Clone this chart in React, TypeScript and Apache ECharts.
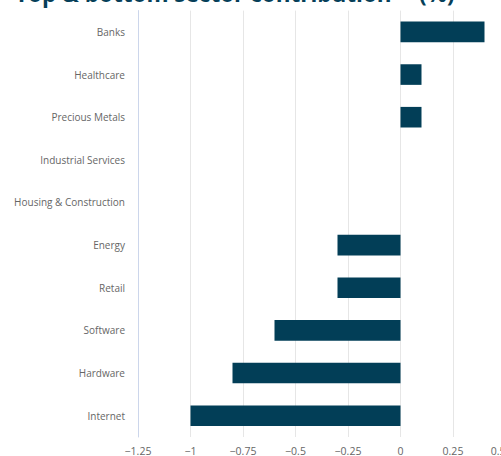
import React, { useEffect, useRef } from "react";
import * as echarts from "echarts";

const categories = [
  "Banks",
  "Healthcare",
  "Precious Metals",
  "Industrial Services",
  "Housing & Construction",
  "Energy",
  "Retail",
  "Software",
  "Hardware",
  "Internet",
];
const values = [0.4, 0.1, 0.1, 0, 0, -0.3, -0.3, -0.6, -0.8, -1.0];
const titleMain = "Top & bottom sector contribution";
const titleSup = "**";
const titleUnit = "(%)";
const xMin = -1.25;
const xMax = 0.5;
const xStep = 0.25;

export default function App() {
  const ref = useRef<HTMLDivElement>(null);
  useEffect(() => {
    if (!ref.current) return;
    const chart = echarts.init(ref.current, undefined, { renderer: "svg" });
    const titleStyle = {
      fontFamily: "Open Sans",
      fontWeight: "bold",
      fontSize: 22.5,
      fill: "#063f59",
      verticalAlign: "bottom",
    };
    chart.setOption({
      animation: false,
      graphic: [
        { type: "text", x: 15, y: 5, style: { ...titleStyle, text: titleMain } },
        { type: "text", x: 396, y: -1, style: { ...titleStyle, fontSize: 14, text: titleSup } },
        { type: "text", x: 419, y: 5, style: { ...titleStyle, text: titleUnit } },
      ],
      grid: { left: 138, top: 10.6, width: 367.5, height: 429, containLabel: false },
      xAxis: {
        type: "value",
        min: xMin,
        max: xMax,
        interval: xStep,
        axisLine: { show: false },
        axisTick: { show: false },
        splitLine: { show: true, lineStyle: { color: "#e6e6e6", width: 1 } },
        axisLabel: {
          color: "#666666",
          fontSize: 10.5,
          fontFamily: "Open Sans",
          margin: 8,
          alignMaxLabel: "right",
          formatter: (v: number) => String(v).replace("-", "\u2212"),
        },
      },
      yAxis: {
        type: "category",
        data: categories,
        inverse: true,
        axisLine: { show: true, onZero: false, lineStyle: { color: "#ccd6eb", width: 1 } },
        axisTick: { show: false },
        splitLine: { show: false },
        axisLabel: {
          color: "#666666",
          fontSize: 10,
          fontFamily: "Open Sans",
          margin: 13,
        },
      },
      series: [
        {
          type: "bar",
          data: values,
          barWidth: 20.6,
          itemStyle: { color: "#023e57" },
        },
      ],
    });
    return () => chart.dispose();
  }, []);
  return (
    <div
      style={{
        position: "absolute",
        left: 0,
        top: 0,
        width: 501,
        height: 456,
        overflow: "hidden",
        background: "#fff",
      }}
    >
      <div ref={ref} style={{ width: 540, height: 456 }} />
    </div>
  );
}
